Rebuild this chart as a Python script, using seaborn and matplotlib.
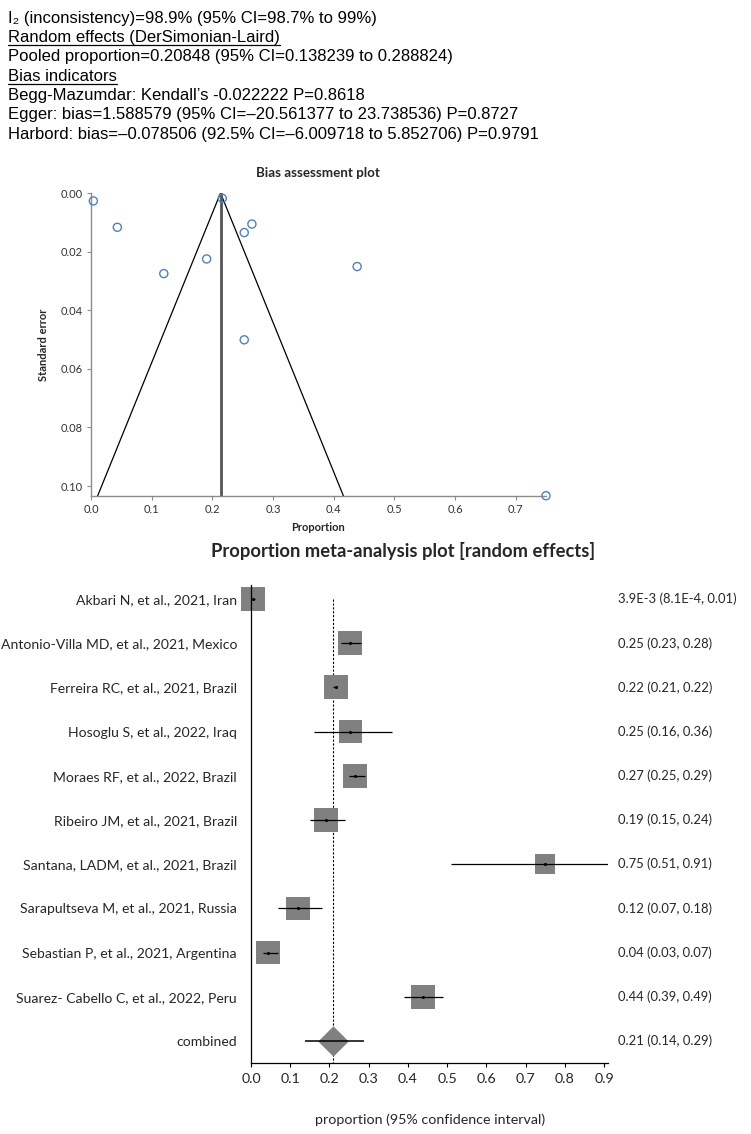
import matplotlib
matplotlib.use("Agg")
import matplotlib.pyplot as plt
import matplotlib.transforms as mtransforms
from matplotlib.lines import Line2D
import seaborn as sns
import pandas as pd

# dados
studies = ["Akbari N, et al., 2021, Iran",
           "Antonio-Villa MD, et al., 2021, Mexico",
           "Ferreira RC, et al., 2021, Brazil",
           "Hosoglu S, et al., 2022, Iraq",
           "Moraes RF, et al., 2022, Brazil",
           "Ribeiro JM, et al., 2021, Brazil",
           "Santana, LADM, et al., 2021, Brazil",
           "Sarapultseva M, et al., 2021, Russia",
           "Sebastian P, et al., 2021, Argentina",
           "Suarez- Cabello C, et al., 2022, Peru"]
prop = [0.0039, 0.2526, 0.2164, 0.2526, 0.2652, 0.1906, 0.75, 0.120, 0.0434, 0.4387]
lower = [0.00081, 0.23, 0.21, 0.16, 0.25, 0.15, 0.51, 0.07, 0.03, 0.39]
upper = [0.01, 0.28, 0.22, 0.36, 0.29, 0.24, 0.91, 0.18, 0.07, 0.49]
std_err = [0.0027, 0.0135, 0.0018, 0.0501, 0.0106, 0.0225, 0.1033, 0.0275, 0.0117, 0.0251]
weight = [10.3, 10.2, 10.3, 9.6, 10.3, 10.1, 7.2, 9.9, 10.2, 10.1]
value_labels = ["3.9E-3 (8.1E-4, 0.01)", "0.25 (0.23, 0.28)", "0.22 (0.21, 0.22)",
                "0.25 (0.16, 0.36)", "0.27 (0.25, 0.29)", "0.19 (0.15, 0.24)",
                "0.75 (0.51, 0.91)", "0.12 (0.07, 0.18)", "0.04 (0.03, 0.07)",
                "0.44 (0.39, 0.49)"]
pooled = 0.20848
pooled_low = 0.138239
pooled_high = 0.288824
pooled_label = "0.21 (0.14, 0.29)"
funnel_center = 0.2135

header_lines = [
    "I\u2082 (inconsistency)=98.9% (95% CI=98.7% to 99%)",
    "Random effects (DerSimonian-Laird)",
    "Pooled proportion=0.20848 (95% CI=0.138239 to 0.288824)",
    "Bias indicators",
    "Begg-Mazumdar: Kendall\u2019s -0.022222 P=0.8618",
    "Egger: bias=1.588579 (95% CI=\u201320.561377 to 23.738536) P=0.8727",
    "Harbord: bias=\u20130.078506 (92.5% CI=\u20136.009718 to 5.852706) P=0.9791",
]
underlined = [1, 3]

df = pd.DataFrame({"study": studies, "prop": prop, "lower": lower, "upper": upper,
                   "se": std_err, "weight": weight})
df["row"] = range(len(df))

sns.set_theme(style="white")
plt.rcParams['font.family'] = ['Lato', 'DejaVu Sans']

W, H = 751, 1134
fig = plt.figure(figsize=(W / 100, H / 100), dpi=100)
fig.patch.set_facecolor("white")

def fx(px):
    return px / W

def fy(py):
    return 1 - py / H

# bloco de texto
texts = []
for i, line in enumerate(header_lines):
    t = fig.text(fx(8), fy(22.5 + 19.4 * i), line, ha="left", va="baseline",
                 fontsize=12, family=['Liberation Sans', 'DejaVu Sans'], color="black")
    texts.append(t)
fig.canvas.draw()
rend = fig.canvas.get_renderer()
for i in underlined:
    bb = texts[i].get_window_extent(rend)
    yb = fy(22.5 + 19.4 * i + 3)
    fig.add_artist(Line2D([bb.x0 / W, bb.x1 / W], [yb, yb], color="black", lw=0.9,
                          transform=fig.transFigure))

# funnel plot
grey = "#8c8c8c"
ax1 = fig.add_axes([fx(91), fy(496), fx(546) - fx(91), fy(193) - fy(496)])
se_max = 0.1034
ax1.plot([funnel_center - 1.96 * se_max, funnel_center, funnel_center + 1.96 * se_max],
         [se_max, 0, se_max], color="black", lw=0.9, zorder=2)
ax1.plot([funnel_center, funnel_center], [0, se_max], color="#555555", lw=2, zorder=2)
sns.scatterplot(data=df, x="prop", y="se", ax=ax1, marker="o", s=34,
                facecolor="none", edgecolor="#4f81bd", linewidth=1, zorder=3,
                clip_on=False)
ax1.set_xlim(0, 0.75)
ax1.set_ylim(se_max, 0)
ax1.set_xticks([0, 0.1, 0.2, 0.3, 0.4, 0.5, 0.6, 0.7])
ax1.set_xticklabels([f"{v:.1f}" for v in ax1.get_xticks()])
ax1.set_yticks([0, 0.02, 0.04, 0.06, 0.08, 0.10])
ax1.set_yticklabels([f"{v:.2f}" for v in ax1.get_yticks()])
for s in ["top", "right"]:
    ax1.spines[s].set_visible(False)
for s in ["left", "bottom"]:
    ax1.spines[s].set_color(grey)
    ax1.spines[s].set_linewidth(1)
ax1.tick_params(axis="both", which="both", length=3, width=0.8, color=grey,
                labelsize=8, labelcolor="#333333", pad=3, direction="out",
                left=True, bottom=True)
ax1.set_xlabel("Proportion", fontsize=8, fontweight="bold", labelpad=5)
ax1.set_ylabel("Standard error", fontsize=8, fontweight="bold", labelpad=8)
fig.text(fx(318), fy(173), "Bias assessment plot", ha="center", va="center",
         fontsize=9.6, fontweight="bold")

# forest plot
ax2 = fig.add_axes([fx(251), fy(1063), fx(608) - fx(251), fy(585) - fy(1063)])
n = len(df)
box_area = (24 * 0.72) ** 2
sizes = [box_area * w / max(weight) for w in weight]
ax2.vlines(pooled, 0, n + 0.6, color="black", lw=0.8, linestyles=(0, (2, 1.5)), zorder=1)
sns.scatterplot(data=df, x="prop", y="row", ax=ax2, marker="s", s=sizes,
                color="#808080", linewidth=0, zorder=2, clip_on=False)
ax2.hlines(df["row"], df["lower"], df["upper"], color="black", lw=0.9, zorder=3)
sns.scatterplot(data=df, x="prop", y="row", ax=ax2, marker="o", s=5,
                color="black", linewidth=0, zorder=4)
sns.scatterplot(x=[pooled], y=[n], ax=ax2, marker="D", s=240, color="#808080",
                linewidth=0, zorder=2, clip_on=False)
ax2.hlines([n], [pooled_low], [pooled_high], color="black", lw=1.1, zorder=3)

ax2.set_xlim(0, 0.91)
ax2.set_ylim(n + 0.5, -0.32)
ax2.set_yticks(list(range(n + 1)))
ax2.set_yticklabels(studies + ["combined"])
ax2.set_xticks([i / 10 for i in range(10)])
ax2.set_xticklabels([f"{i / 10:.1f}" for i in range(10)])
for s in ["top", "right"]:
    ax2.spines[s].set_visible(False)
for s in ["left", "bottom"]:
    ax2.spines[s].set_color("black")
    ax2.spines[s].set_linewidth(0.9)
ax2.tick_params(axis="y", length=0, pad=10, labelsize=10.1)
ax2.tick_params(axis="x", length=3, width=0.8, color="black", labelsize=10.3, pad=4,
                bottom=True, direction="out")
ax2.set_xlabel("")
ax2.set_ylabel("")
tr = mtransforms.blended_transform_factory(fig.transFigure, ax2.transData)
for i, lab in enumerate(value_labels + [pooled_label]):
    ax2.text(fx(618), i, lab, transform=tr, ha="left", va="center", fontsize=9.4)
fig.text(fx(430), fy(1120), "proportion (95% confidence interval)", ha="center",
         va="center", fontsize=10.3)
fig.text(fx(403), fy(551), "Proportion meta-analysis plot [random effects]",
         ha="center", va="center", fontsize=13.2, fontweight="bold")

fig.savefig("out.png", dpi=100, facecolor="white")
